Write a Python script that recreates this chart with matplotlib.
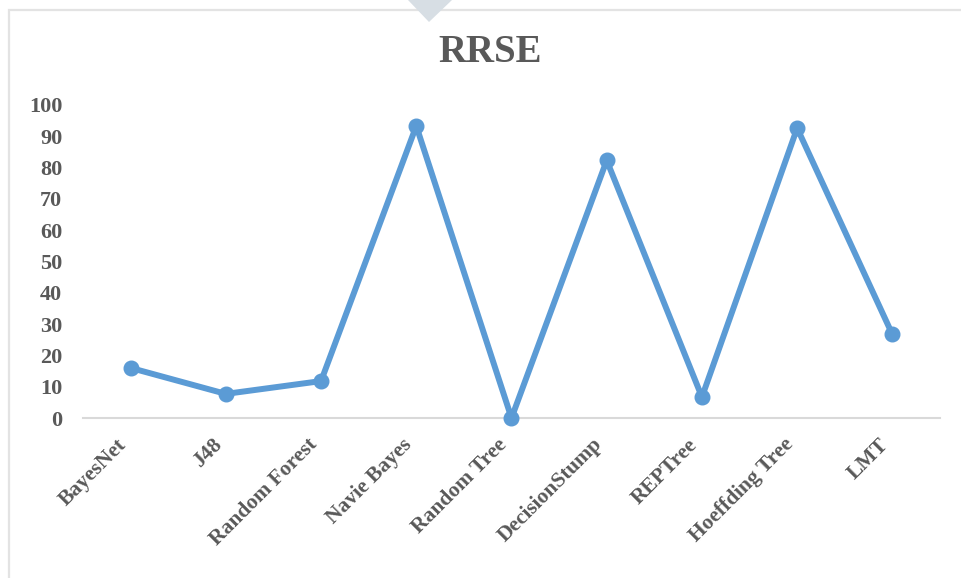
import matplotlib
matplotlib.use("Agg")
import matplotlib.pyplot as plt
from matplotlib.patches import Polygon, Rectangle

# data
models = ['BayesNet', 'J48', 'Random Forest', 'Navie Bayes', 'Random Tree',
          'DecisionStump', 'REPTree', 'Hoeffding Tree', 'LMT']
rrse = [16.0, 7.7, 11.8, 93.3, 0.0, 82.3, 6.7, 92.6, 26.7]
y_ticks = [0, 10, 20, 30, 40, 50, 60, 70, 80, 90, 100]

text_color = '#595959'
line_color = '#5B9BD5'

plt.rcParams['font.family'] = ['Liberation Serif', 'DejaVu Serif']

fig = plt.figure(figsize=(9.62, 5.78), dpi=100)

# chart frame and the little callout triangle at the top
fig.patches.append(Rectangle((9 / 962, -0.1), 1.2, (578 - 10) / 578 + 0.1,
                             transform=fig.transFigure, fill=False,
                             edgecolor='#e3e3e3', linewidth=1.6, zorder=0))
fig.patches.append(Polygon([(408 / 962, 1.0), (452 / 962, 1.0), (429 / 962, 1 - 22 / 578)],
                           closed=True, transform=fig.transFigure,
                           facecolor='#d7dee4', edgecolor='none', zorder=1))

ax = fig.add_axes([83 / 962, 1 - 418 / 578, (940 - 83) / 962, (418 - 105) / 578])
x = range(len(models))
ax.plot(x, rrse, color=line_color, linewidth=4.3, marker='o', markersize=10.5,
        solid_capstyle='round', solid_joinstyle='round', clip_on=False, zorder=3)

ax.set_xlim(-0.5, len(models) - 0.5)
ax.set_ylim(0, 100)
ax.set_yticks(y_ticks)
ax.set_yticklabels([str(v) for v in y_ticks], fontsize=16, fontweight='bold', color=text_color)
ax.set_xticks(list(x))
ax.set_xticklabels(models, fontsize=15.5, fontweight='bold', color=text_color,
                   rotation=45, ha='right', va='top')
ax.tick_params(axis='y', length=0, pad=15)
ax.tick_params(axis='x', length=0, pad=12)

for side in ['left', 'right', 'top']:
    ax.spines[side].set_visible(False)
ax.spines['bottom'].set_color('#d9d9d9')
ax.spines['bottom'].set_linewidth(1.5)

fig.text(490 / 962, 1 - 52 / 578, 'RRSE', ha='center', va='center',
         fontsize=28, fontweight='bold', color=text_color)

fig.savefig('out.png', dpi=100)
